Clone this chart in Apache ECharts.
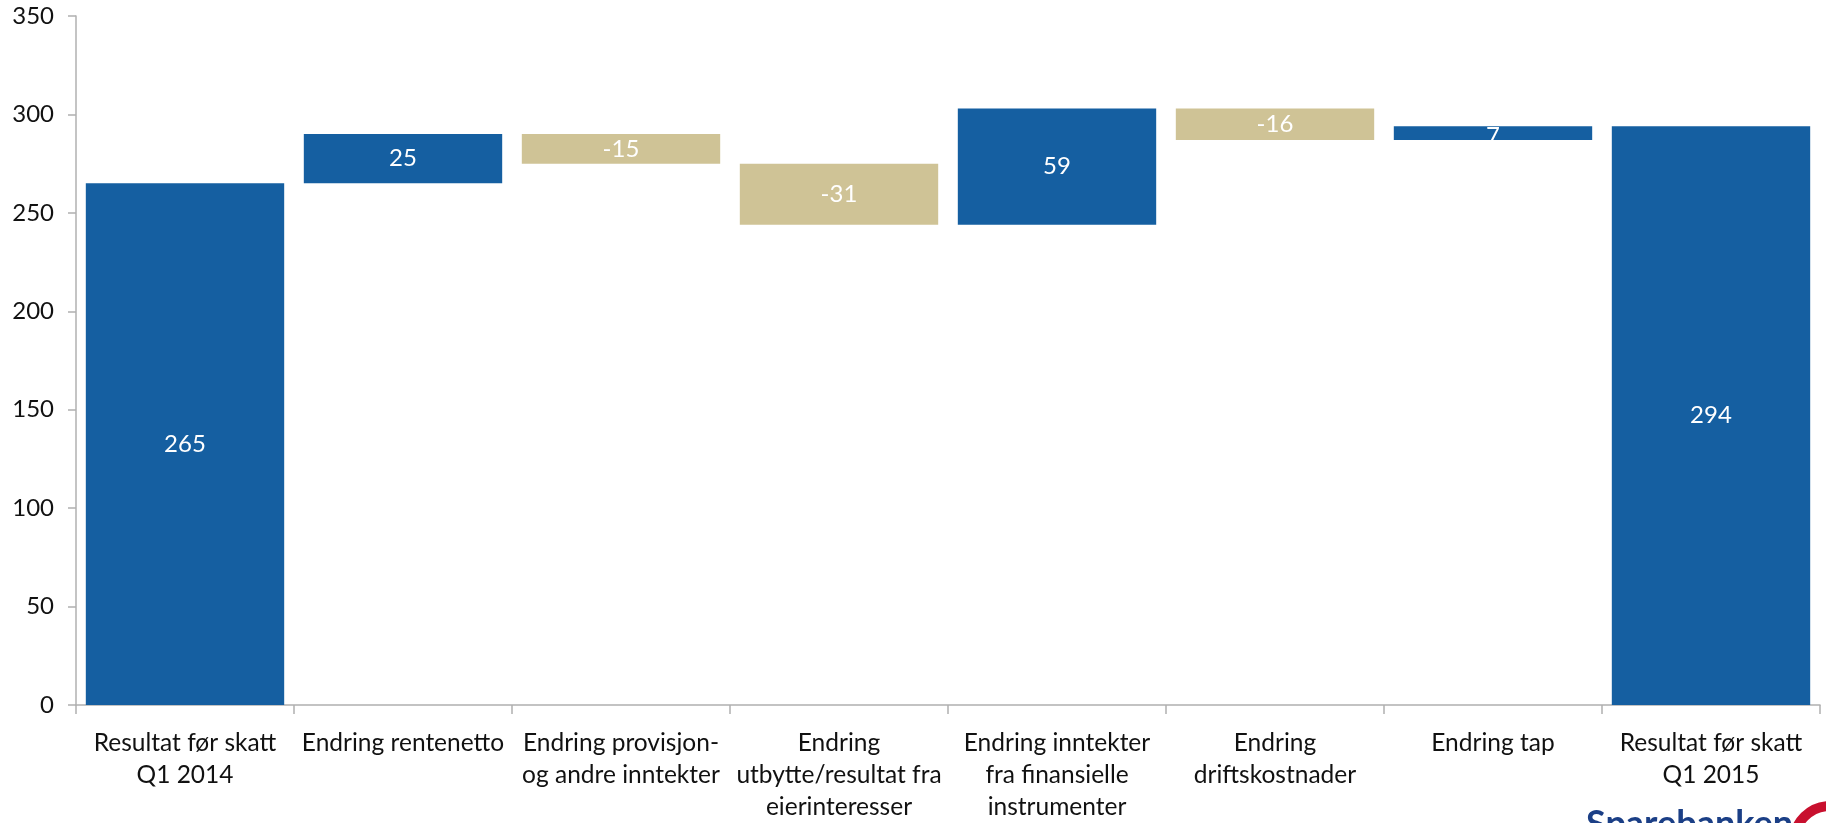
<!DOCTYPE html>
<html>
<head>
<meta charset="utf-8">
<script src="https://cdn.jsdelivr.net/npm/echarts@6/dist/echarts.min.js"></script>
<style>html,body{margin:0;padding:0;background:#fff;}#c{width:1826px;height:823px;}</style>
</head>
<body>
<div id="c"></div>
<script>
const categories = [
  "Resultat før skatt\nQ1 2014",
  "Endring rentenetto",
  "Endring provisjon-\nog andre inntekter",
  "Endring\nutbytte/resultat fra\neierinteresser",
  "Endring inntekter\nfra finansielle\ninstrumenter",
  "Endring\ndriftskostnader",
  "Endring tap",
  "Resultat før skatt\nQ1 2015"
];
const values = [265, 25, -15, -31, 59, -16, 7, 294];
const isTotal = [true, false, false, false, false, false, false, true];
const yTicks = [0, 50, 100, 150, 200, 250, 300, 350];

const BLUE = '#155fa1', TAN = '#cfc396';
const FONT = 'Lato';

// build waterfall base/height from values
const base = [], height = [];
let run = 0;
values.forEach((v, i) => {
  if (isTotal[i]) { base.push(0); height.push(v); run = v; }
  else {
    const start = run, end = run + v;
    base.push(Math.min(start, end));
    height.push(Math.abs(v));
    run = end;
  }
});

const chart = echarts.init(document.getElementById('c'));
chart.setOption({
  animation: false,
  backgroundColor: '#fff',
  grid: { left: 76, right: 6, top: 16, bottom: 112, containLabel: false },
  xAxis: {
    type: 'category',
    data: categories,
    axisLine: { lineStyle: { color: '#b0b0b0', width: 1.5 } },
    axisTick: { show: true, length: 9, lineStyle: { color: '#b0b0b0', width: 1.5 } },
    axisLabel: { color: '#111', fontFamily: FONT, fontSize: 24.5, lineHeight: 32, margin: 22, interval: 0 }
  },
  yAxis: {
    type: 'value',
    min: yTicks[0], max: yTicks[yTicks.length - 1], interval: 50,
    splitLine: { show: false },
    axisLine: { show: true, lineStyle: { color: '#b0b0b0', width: 1.5 } },
    axisTick: { show: true, length: 8, lineStyle: { color: '#b0b0b0', width: 1.5 } },
    axisLabel: { color: '#111', fontFamily: FONT, fontSize: 24, margin: 22 }
  },
  series: [
    {
      type: 'bar', stack: 'w', barCategoryGap: '9%',
      itemStyle: { color: 'transparent' },
      data: base, silent: true
    },
    {
      type: 'bar', stack: 'w', barCategoryGap: '9%',
      data: height.map((h, i) => ({
        value: h,
        itemStyle: { color: (isTotal[i] || values[i] >= 0) ? BLUE : TAN },
        label: h < 10 ? { offset: [0, 3] } : undefined
      })),
      label: {
        show: true, position: 'inside', color: '#fff',
        fontFamily: FONT, fontSize: 24,
        formatter: p => String(values[p.dataIndex])
      }
    }
  ],
  graphic: [
    {
      type: 'text', left: 1586, top: 806,
      style: { text: 'Sparebanken', fill: '#1b3f86', font: 'bold 36px Lato' }
    },
    {
      type: 'circle', shape: { cx: 1830, cy: 842, r: 36 },
      style: { fill: 'none', stroke: '#c8102e', lineWidth: 10 }
    }
  ]
});
</script>
</body>
</html>
